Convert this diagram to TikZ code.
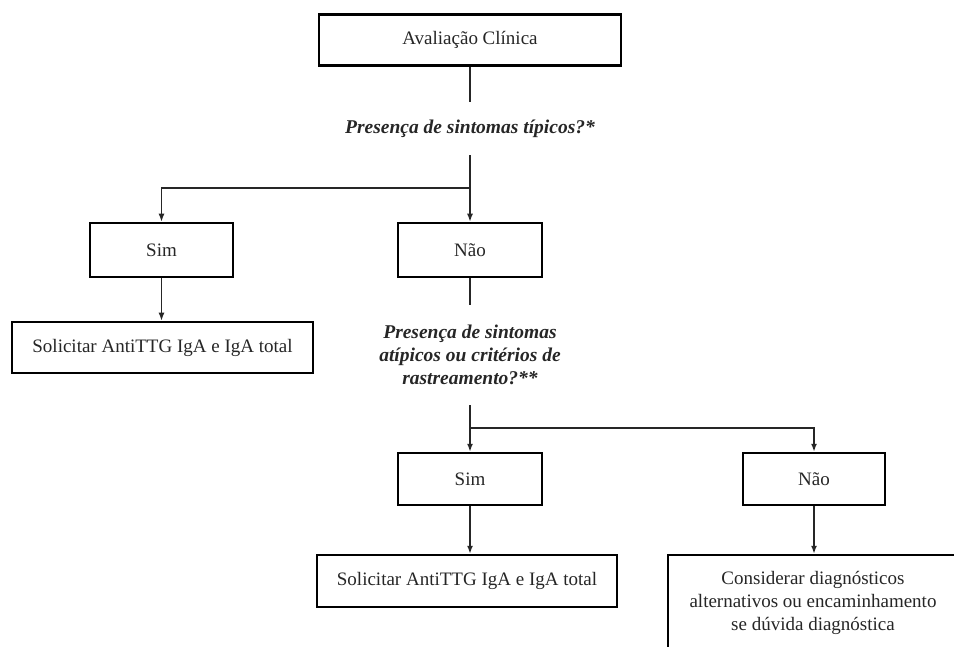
\documentclass[tikz,border=0pt]{standalone}
\usepackage{fontspec}
\setmainfont{Liberation Serif}
\usetikzlibrary{arrows.meta}
\begin{document}
\begin{tikzpicture}[x=1pt,y=-1pt,
  every node/.style={font=\fontsize{19}{23}\selectfont, text=black!85},
  box/.style={draw=black, line width=2.5pt, fill=white, align=center, inner sep=0pt},
  question/.style={font=\fontsize{19.5}{23}\selectfont\bfseries\itshape, align=center, inner xsep=2pt},
  conn/.style={draw=black!85, line width=1.5pt},
  arr/.style={conn, -{Latex[length=8pt,width=6pt]}}]
\useasboundingbox (0,0) rectangle (954,647);
\clip (0,0) rectangle (954,647);
\fill[white] (0,0) rectangle (954,647);
% nodes
\node[box, minimum width=302, minimum height=51] (top) at (470,40) {Avaliação Clínica};
\node[question, inner ysep=0pt, minimum height=53] (q1) at (470,128.5) {Presença de sintomas típicos?*};
\node[box, minimum width=143, minimum height=54] (sim1) at (161.5,250) {Sim};
\node[box, minimum width=144, minimum height=54] (nao1) at (470,250) {Não};
\node[box, minimum width=301, minimum height=51] (sol1) at (162.5,347.5) {Solicitar AntiTTG IgA e IgA total};
\node[question, inner ysep=0pt, minimum height=100] (q2) at (470,355) {Presença de sintomas\\atípicos ou critérios de\\rastreamento?**};
\node[box, minimum width=144, minimum height=52] (sim2) at (470,479) {Sim};
\node[box, minimum width=142, minimum height=52] (nao2) at (814,479) {Não};
\node[box, minimum width=300, minimum height=52] (sol2) at (467,581) {Solicitar AntiTTG IgA e IgA total};
\node[box, minimum width=290, minimum height=95] (cons) at (813,602.5) {Considerar diagnósticos\\alternativos ou encaminhamento\\se dúvida diagnóstica};
% connectors
\draw[conn] (top.south) -- (q1.north);
\draw[conn] (q1.south) -- ++(0,33) coordinate (j1);
\draw[arr] (j1) -| (sim1.north);
\draw[arr] (j1) -- (nao1.north);
\draw[arr] (sim1.south) -- (sim1.south |- sol1.north);
\draw[conn] (nao1.south) -- (q2.north);
\draw[conn] (q2.south) -- ++(0,23) coordinate (j2);
\draw[arr] (j2) -- (sim2.north);
\draw[arr] (j2) -| (nao2.north);
\draw[arr] (sim2.south) -- (sim2.south |- sol2.north);
\draw[arr] (nao2.south) -- (nao2.south |- cons.north);
\end{tikzpicture}
\end{document}
